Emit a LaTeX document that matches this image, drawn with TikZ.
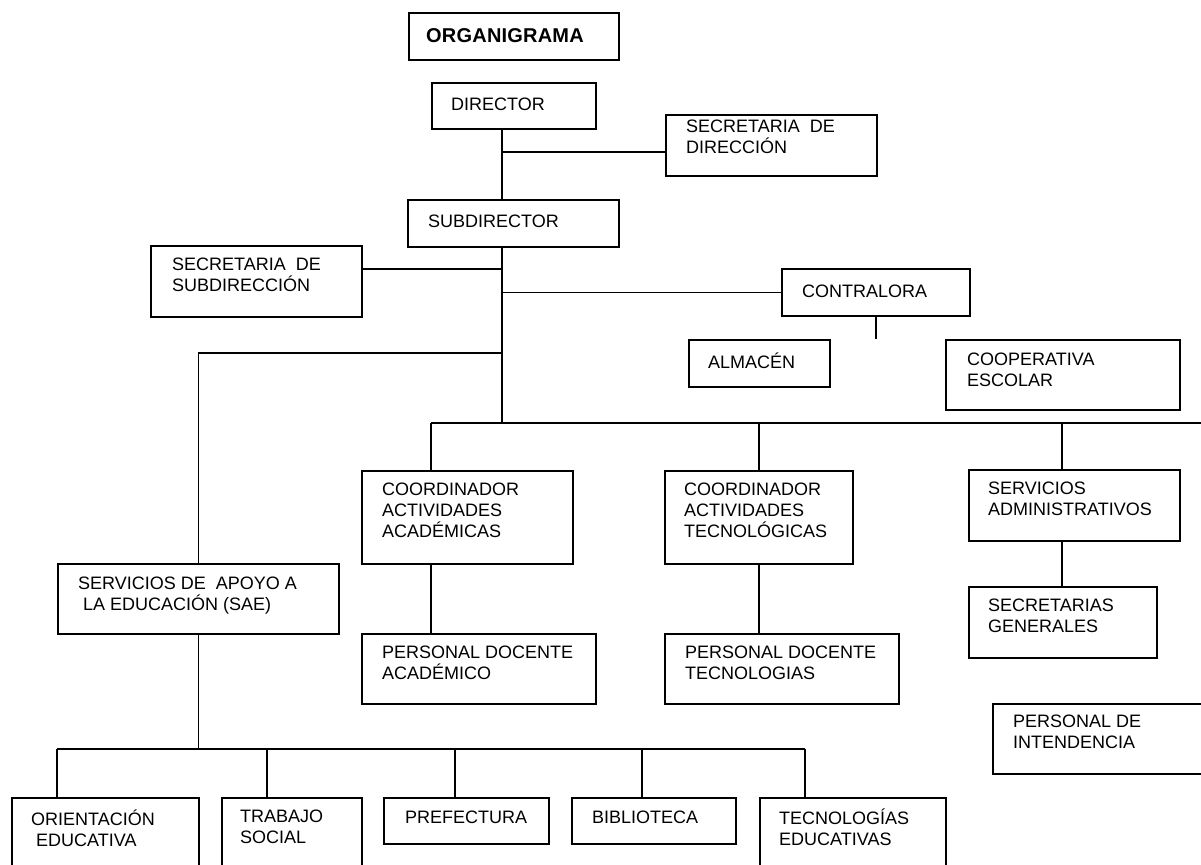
\documentclass[tikz,border=0pt]{standalone}
\usepackage{fontspec}
\setmainfont{Liberation Sans}
\usepackage{tikz}

\tikzset{
  box/.style={draw, line width=1.8pt, anchor=north west, inner sep=0pt},
  txt/.style={anchor=north west, align=left, inner sep=0pt,
    font=\fontsize{18}{21}\selectfont, execute at begin node=\strut},
  con/.style={line width=1.8pt}
}

\begin{document}
\begin{tikzpicture}[x=1pt, y=-1pt]
  \useasboundingbox (0,0) rectangle (1201,864);
  \clip (0,0) rectangle (1201,864);
  % cajas
  \node[box, minimum width=210, minimum height=47] (tit) at (408,12) {};
  \node[txt, font=\fontsize{20}{23}\selectfont\bfseries\addfontfeatures{LetterSpace=1}] (titT) at (426,26) {ORGANIGRAMA};
  \node[box, minimum width=164, minimum height=46] (dir) at (431,82) {};
  \node[txt] (dirT) at (451,96) {DIRECTOR};
  \node[box, minimum width=211, minimum height=61] (secdir) at (665,114) {};
  \node[txt] (secdirT) at (686,120) {SECRETARIA\ \ DE\\DIRECCIÓN};
  \node[box, minimum width=211, minimum height=47] (sub) at (407,199) {};
  \node[txt] (subT) at (428,213) {SUBDIRECTOR};
  \node[box, minimum width=211, minimum height=71] (secsub) at (150,245) {};
  \node[txt] (secsubT) at (172,258) {SECRETARIA\ \ DE\\SUBDIRECCIÓN};
  \node[box, minimum width=188, minimum height=47] (contr) at (781,268) {};
  \node[txt] (contrT) at (802,283) {CONTRALORA};
  \node[box, minimum width=141, minimum height=47] (alm) at (688,339) {};
  \node[txt] (almT) at (708,353) {ALMACÉN};
  \node[box, minimum width=234, minimum height=70] (coop) at (945,339) {};
  \node[txt] (coopT) at (967,353) {COOPERATIVA\\ESCOLAR};
  \node[box, minimum width=211, minimum height=93] (caa) at (361,470) {};
  \node[txt] (caaT) at (382,483) {COORDINADOR\\ACTIVIDADES\\ACADÉMICAS};
  \node[box, minimum width=234, minimum height=70] (pda) at (361,633) {};
  \node[txt] (pdaT) at (382,646) {PERSONAL DOCENTE\\ACADÉMICO};
  \node[box, minimum width=188, minimum height=93] (cat) at (664,470) {};
  \node[txt] (catT) at (684,483) {COORDINADOR\\ACTIVIDADES\\TECNOLÓGICAS};
  \node[box, minimum width=234, minimum height=70] (pdt) at (664,633) {};
  \node[txt] (pdtT) at (685,646) {PERSONAL DOCENTE\\TECNOLOGIAS};
  \node[box, minimum width=211, minimum height=71] (sa) at (968,469) {};
  \node[txt] (saT) at (988,482) {SERVICIOS\\ADMINISTRATIVOS};
  \node[box, minimum width=188, minimum height=71] (sg) at (968,586) {};
  \node[txt] (sgT) at (988,599) {SECRETARIAS\\GENERALES};
  \node[box, minimum width=240, minimum height=70] (pi) at (992,703) {};
  \node[txt] (piT) at (1013,715) {PERSONAL DE\\INTENDENCIA};
  \node[box, minimum width=281, minimum height=70] (sae) at (57,563) {};
  \node[txt] (saeT) at (78,577) {SERVICIOS DE\ \ APOYO A\\\hspace*{5pt}LA EDUCACIÓN (SAE)};
  \node[box, minimum width=187, minimum height=90] (ori) at (11,797) {};
  \node[txt] (oriT) at (31,810) {ORIENTACIÓN\\\hspace*{5pt}EDUCATIVA};
  \node[box, minimum width=140, minimum height=90] (tra) at (221,797) {};
  \node[txt] (traT) at (240,810) {TRABAJO\\SOCIAL};
  \node[box, minimum width=165, minimum height=46] (pre) at (383,797) {};
  \node[txt] (preT) at (405,809) {PREFECTURA};
  \node[box, minimum width=164, minimum height=46] (bib) at (571,797) {};
  \node[txt] (bibT) at (592,809) {BIBLIOTECA};
  \node[box, minimum width=186, minimum height=90] (tec) at (759,797) {};
  \node[txt] (tecT) at (779,809) {TECNOLOGÍAS\\EDUCATIVAS};
  % lineas
  \coordinate (spine) at (502,0);
  \coordinate (j1) at (502,152);
  \coordinate (j2) at (502,269);
  \coordinate (j4) at (502,353);
  \coordinate (bus1) at (431,423);
  \coordinate (xsa) at (1062,0);
  \coordinate (bus2) at (57,749);
  \coordinate (bus2e) at (805,749);
  \draw[con] (dir.south -| spine) -- (sub.north -| spine);
  \draw[con] (j1) -- (j1 -| secdir.west);
  \draw[con] (sub.south -| spine) -- (bus1 -| spine);
  \draw[con] (j2) -- (j2 -| secsub.east);
  \draw[con] (contr.west -| spine) -- (contr.west);
  \draw[con] (contr.south) -- (contr.south |- alm.north);
  \draw[con] (j4) -| (sae.north);
  \draw[con] (bus1) -- ++(820,0);
  \draw[con] (bus1) -- (bus1 |- caa.north);
  \draw[con] (bus1 -| cat.north) -- (cat.north);
  \draw[con] (bus1 -| xsa) -- (sa.north -| xsa);
  \draw[con] (caa.south -| bus1) -- (pda.north -| bus1);
  \draw[con] (cat.south) -- (cat.south |- pdt.north);
  \draw[con] (sa.south -| xsa) -- (sg.north -| xsa);
  \draw[con] (sae.south) -- (sae.south |- bus2);
  \draw[con] (bus2) -- (bus2e);
  \foreach \n/\x in {ori/57, tra/267, pre/455, bib/642, tec/805}
    \draw[con] (bus2 -| \x,0) -- (\n.north -| \x,0);
\end{tikzpicture}
\end{document}
